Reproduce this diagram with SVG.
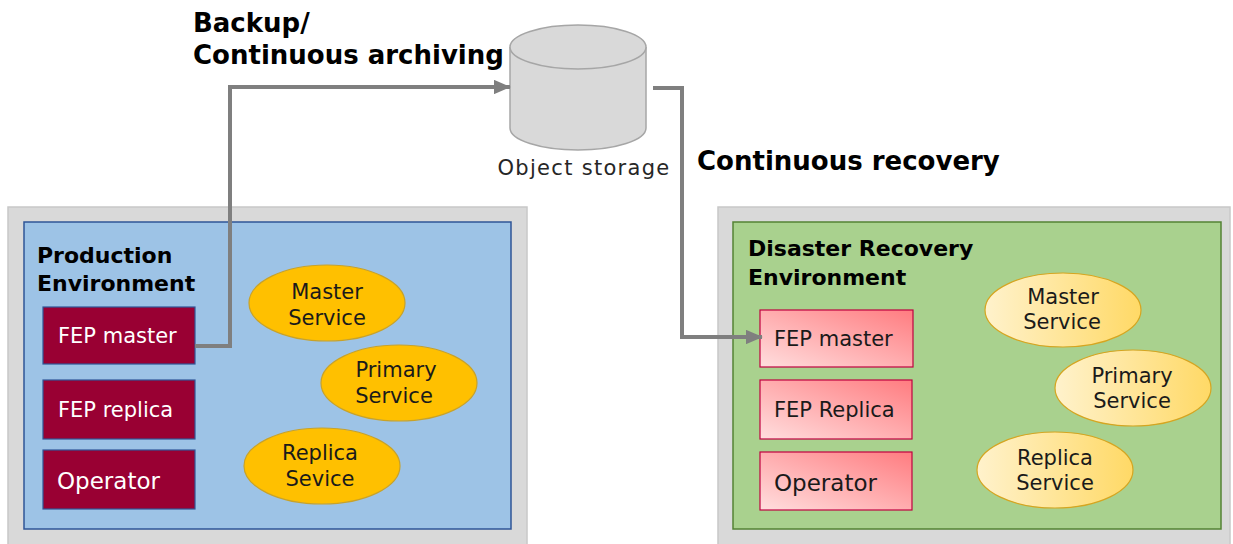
<svg xmlns="http://www.w3.org/2000/svg" width="1233" height="544" viewBox="0 0 1233 544">
<defs>
<marker id="arr" markerWidth="4.2" markerHeight="3.6" refX="4" refY="1.8" orient="auto" markerUnits="strokeWidth">
<path d="M0,0 L4.2,1.8 L0,3.6 Z" fill="#7f7f7f"/>
</marker>
<linearGradient id="pinkG" x1="0" y1="1" x2="1" y2="0">
<stop offset="0" stop-color="#ffdede"/>
<stop offset="1" stop-color="#ff7c80"/>
</linearGradient>
<linearGradient id="yelG" x1="0" y1="0" x2="1" y2="0">
<stop offset="0" stop-color="#fff2cc"/>
<stop offset="1" stop-color="#ffd966"/>
</linearGradient>
<style>
.outer{fill:#d9d9d9;stroke:#c8c8c8;stroke-width:1.5}
.blue{fill:#9dc3e6;stroke:#2f5597;stroke-width:1.5}
.green{fill:#a9d18e;stroke:#548235;stroke-width:1.5}
.fepL{fill:#990033;stroke:#2f5597;stroke-width:1.2}
.fepR{fill:url(#pinkG);stroke:#c00040;stroke-width:1.2}
.ellL{fill:#ffc000;stroke:#c9a227;stroke-width:1.2}
.ellR{fill:url(#yelG);stroke:#d6a520;stroke-width:1.2}
.t{font-family:"DejaVu Sans",Verdana,sans-serif;font-size:21px}
.op{font-size:23px}
.w{fill:#ffffff}
.k{fill:#1a1a1a}
.b{font-family:"DejaVu Sans","Liberation Sans",sans-serif;font-weight:bold;fill:#000}
.conn{fill:none;stroke:#7f7f7f;stroke-width:4;marker-end:url(#arr)}
</style>
</defs>
<rect width="1233" height="544" fill="#ffffff"/>

<g id="production-env">
<rect class="outer" x="8" y="207" width="519" height="345"/>
<rect class="blue" x="24" y="222" width="487" height="307"/>
<text class="b" x="37" y="263" font-size="22">Production</text>
<text class="b" x="37" y="291" font-size="22">Environment</text>
</g>
<g id="prod-fep-master"><rect class="fepL" x="43" y="307" width="152" height="57"/><text class="t w" x="58" y="343">FEP master</text></g>
<g id="prod-fep-replica"><rect class="fepL" x="43" y="380" width="152" height="59"/><text class="t w" x="58" y="417">FEP replica</text></g>
<g id="prod-operator"><rect class="fepL" x="43" y="450" width="152" height="59"/><text class="t op w" x="57" y="489">Operator</text></g>
<g id="prod-master-service"><ellipse class="ellL" cx="327" cy="303" rx="78" ry="38"/><text class="t k" text-anchor="middle" x="327" y="299">Master</text><text class="t k" text-anchor="middle" x="327" y="325">Service</text></g>
<g id="prod-primary-service"><ellipse class="ellL" cx="399" cy="383" rx="78" ry="38"/><text class="t k" text-anchor="middle" x="396" y="377">Primary</text><text class="t k" text-anchor="middle" x="394" y="403">Service</text></g>
<g id="prod-replica-service"><ellipse class="ellL" cx="322" cy="466" rx="78" ry="38"/><text class="t k" text-anchor="middle" x="320" y="460">Replica</text><text class="t k" text-anchor="middle" x="320" y="486">Sevice</text></g>

<g id="dr-env">
<rect class="outer" x="718" y="207" width="512" height="345"/>
<rect class="green" x="733" y="222" width="488" height="307"/>
<text class="b" x="748" y="256" font-size="22">Disaster Recovery</text>
<text class="b" x="748" y="285" font-size="22">Environment</text>
</g>
<g id="dr-fep-master"><rect class="fepR" x="760" y="310" width="153" height="57"/><text class="t k" x="774" y="346">FEP master</text></g>
<g id="dr-fep-replica"><rect class="fepR" x="760" y="380" width="152" height="59"/><text class="t k" x="774" y="417">FEP Replica</text></g>
<g id="dr-operator"><rect class="fepR" x="760" y="452" width="152" height="58"/><text class="t op k" x="774" y="491">Operator</text></g>
<g id="dr-master-service"><ellipse class="ellR" cx="1063" cy="310" rx="78" ry="37"/><text class="t k" text-anchor="middle" x="1063" y="304">Master</text><text class="t k" text-anchor="middle" x="1062" y="329">Service</text></g>
<g id="dr-primary-service"><ellipse class="ellR" cx="1133" cy="388" rx="78" ry="38"/><text class="t k" text-anchor="middle" x="1132" y="383">Primary</text><text class="t k" text-anchor="middle" x="1132" y="408">Service</text></g>
<g id="dr-replica-service"><ellipse class="ellR" cx="1055" cy="470" rx="78" ry="38"/><text class="t k" text-anchor="middle" x="1055" y="465">Replica</text><text class="t k" text-anchor="middle" x="1055" y="490">Service</text></g>

<g id="object-storage">
<path d="M510,47 L510,128 A68,22 0 0 0 646,128 L646,47" fill="#d9d9d9" stroke="#a6a6a6" stroke-width="1.5"/>
<ellipse cx="578" cy="47" rx="68" ry="22" fill="#d9d9d9" stroke="#a6a6a6" stroke-width="1.5"/>
<text class="t" x="584" y="175" text-anchor="middle" font-size="19" fill="#262626" letter-spacing="1.3">Object storage</text>
</g>

<g id="connectors">
<path class="conn" d="M195,346 L230,346 L230,87 L510,87"/>
<path class="conn" d="M653,88 L682,88 L682,337 L762,337"/>
</g>

<g id="labels">
<text class="b" x="193" y="32" font-size="26">Backup/</text>
<text class="b" x="193" y="64" font-size="26">Continuous archiving</text>
<text class="b" x="697" y="170" font-size="26">Continuous recovery</text>
</g>
</svg>
